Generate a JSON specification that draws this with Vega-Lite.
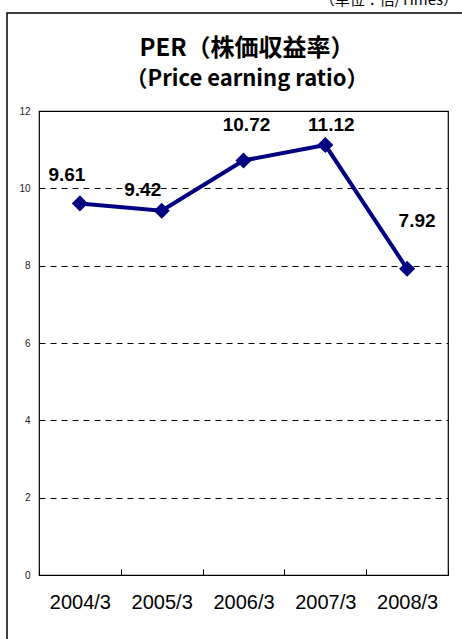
{
  "$schema": "https://vega.github.io/schema/vega-lite/v6.json",
  "width": 409,
  "height": 464,
  "autosize": {"type": "none"},
  "padding": {"left": 39, "top": 111, "right": 14, "bottom": 64},
  "background": "white",
  "data": {
    "values": [
      {"year": "2004/3", "per": 9.61},
      {"year": "2005/3", "per": 9.42},
      {"year": "2006/3", "per": 10.72},
      {"year": "2007/3", "per": 11.12},
      {"year": "2008/3", "per": 7.92}
    ]
  },
  "config": {
    "view": {"stroke": "black", "strokeWidth": 1.2},
    "font": "Liberation Sans"
  },
  "layer": [
    {
      "data": {"values": [{"note": "（単位：倍/Times）"}]},
      "mark": {"type": "text", "align": "right", "baseline": "alphabetic", "fontSize": 15, "font": "Noto Sans CJK JP", "color": "black", "clip": false},
      "encoding": {
        "x": {"value": 419},
        "y": {"value": -106},
        "text": {"field": "note"}
      }
    },
    {
      "data": {"values": [{"t": "PER（株価収益率）"}]},
      "mark": {"type": "text", "align": "center", "baseline": "alphabetic", "fontSize": 24, "fontWeight": "bold", "font": "Noto Sans CJK JP", "color": "black", "clip": false},
      "encoding": {
        "x": {"value": 208},
        "y": {"value": -55},
        "text": {"field": "t"}
      }
    },
    {
      "data": {"values": [{"t": "（Price earning ratio）"}]},
      "mark": {"type": "text", "align": "center", "baseline": "alphabetic", "fontSize": 22, "fontWeight": "bold", "font": "Noto Sans CJK JP", "color": "black", "clip": false},
      "encoding": {
        "x": {"value": 208},
        "y": {"value": -25},
        "text": {"field": "t"}
      }
    },
    {
      "data": {"values": [{"frame": 1}]},
      "mark": {"type": "rect", "fill": null, "stroke": "black", "strokeWidth": 1.5, "clip": false},
      "encoding": {
        "x": {"value": -32},
        "x2": {"value": 440},
        "y": {"value": -98},
        "y2": {"value": 560}
      }
    },
    {
      "mark": {"type": "line", "color": "#000080", "strokeWidth": 4},
      "encoding": {
        "x": {
          "field": "year", "type": "ordinal", "title": null,
          "scale": {"paddingInner": 0, "paddingOuter": 0},
          "axis": {
            "labelAngle": 0, "labelFontSize": 20, "labelColor": "black", "labelFont": "Liberation Sans",
            "tickBand": "extent", "tickSize": -6, "tickColor": "black", "domainColor": "black",
            "labelPadding": 33, "labelBaseline": "middle"
          }
        },
        "y": {
          "field": "per", "type": "quantitative", "title": null,
          "scale": {"domain": [0, 12], "nice": false},
          "axis": {
            "values": [0, 2, 4, 6, 8, 10, 12], "labelFontSize": 10, "labelColor": "#222",
            "ticks": false, "labelPadding": 9, "domain": false,
            "grid": true, "gridColor": "black", "gridDash": [6, 5], "gridWidth": 1
          }
        }
      }
    },
    {
      "mark": {"type": "point", "shape": "diamond", "filled": true, "color": "#000080", "size": 260, "opacity": 1},
      "encoding": {
        "x": {"field": "year", "type": "ordinal"},
        "y": {"field": "per", "type": "quantitative"}
      }
    },
    {
      "transform": [{"filter": "datum.year == '2004/3'"}],
      "mark": {"type": "text", "fontSize": 19, "fontWeight": "bold", "color": "black", "dx": -13, "dy": -28},
      "encoding": {"x": {"field": "year", "type": "ordinal"}, "y": {"field": "per", "type": "quantitative"}, "text": {"field": "per", "format": ".2f"}}
    },
    {
      "transform": [{"filter": "datum.year == '2005/3'"}],
      "mark": {"type": "text", "fontSize": 19, "fontWeight": "bold", "color": "black", "dx": -19, "dy": -21},
      "encoding": {"x": {"field": "year", "type": "ordinal"}, "y": {"field": "per", "type": "quantitative"}, "text": {"field": "per", "format": ".2f"}}
    },
    {
      "transform": [{"filter": "datum.year == '2006/3'"}],
      "mark": {"type": "text", "fontSize": 19, "fontWeight": "bold", "color": "black", "dx": 3, "dy": -35},
      "encoding": {"x": {"field": "year", "type": "ordinal"}, "y": {"field": "per", "type": "quantitative"}, "text": {"field": "per", "format": ".2f"}}
    },
    {
      "transform": [{"filter": "datum.year == '2007/3'"}],
      "mark": {"type": "text", "fontSize": 19, "fontWeight": "bold", "color": "black", "dx": 6, "dy": -20},
      "encoding": {"x": {"field": "year", "type": "ordinal"}, "y": {"field": "per", "type": "quantitative"}, "text": {"field": "per", "format": ".2f"}}
    },
    {
      "transform": [{"filter": "datum.year == '2008/3'"}],
      "mark": {"type": "text", "fontSize": 19, "fontWeight": "bold", "color": "black", "dx": 10, "dy": -48},
      "encoding": {"x": {"field": "year", "type": "ordinal"}, "y": {"field": "per", "type": "quantitative"}, "text": {"field": "per", "format": ".2f"}}
    }
  ]
}
